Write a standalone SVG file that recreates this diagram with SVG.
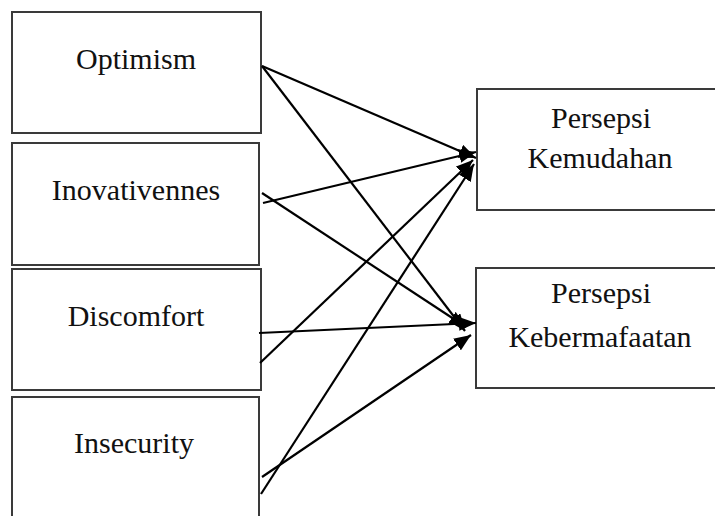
<svg xmlns="http://www.w3.org/2000/svg" width="715" height="516" viewBox="0 0 715 516">
<style>
.box{fill:#fff;stroke:#3a3a3a;stroke-width:2}
.lbl{font-family:'Liberation Serif','Times New Roman',serif;font-size:30px;fill:#111;text-anchor:middle}
.edge{stroke:#000;stroke-width:2.2;fill:none;marker-end:url(#ah)}
</style>
<defs>
<marker id="ah" markerUnits="userSpaceOnUse" markerWidth="18" markerHeight="14" refX="17" refY="7" orient="auto">
<path d="M0,0 L17,7 L0,14 Z" fill="#000"/>
</marker>
</defs>
<rect width="715" height="516" fill="#fff"/>
<g id="optimism"><rect class="box" x="12" y="12" width="249" height="121"/><text class="lbl" x="136" y="69">Optimism</text></g>
<g id="inovativennes"><rect class="box" x="12" y="143" width="247" height="122"/><text class="lbl" x="136" y="200">Inovativennes</text></g>
<g id="discomfort"><rect class="box" x="12" y="269" width="249" height="121"/><text class="lbl" x="136" y="326">Discomfort</text></g>
<g id="insecurity"><rect class="box" x="12" y="397" width="247" height="140"/><text class="lbl" x="134" y="453">Insecurity</text></g>
<g id="persepsi-kemudahan"><rect class="box" x="477" y="89" width="260" height="121"/><text class="lbl" x="601" y="128">Persepsi</text><text class="lbl" x="600" y="168">Kemudahan</text></g>
<g id="persepsi-kebermafaatan"><rect class="box" x="476" y="268" width="260" height="120"/><text class="lbl" x="601" y="303">Persepsi</text><text class="lbl" x="600" y="347">Kebermafaatan</text></g>
<g id="connectors">
<line class="edge" x1="262" y1="66" x2="476" y2="158"/>
<line class="edge" x1="262" y1="66" x2="465" y2="331"/>
<line class="edge" x1="263" y1="203" x2="476" y2="152"/>
<line class="edge" x1="262" y1="193" x2="466" y2="327"/>
<line class="edge" x1="259" y1="333" x2="476" y2="323"/>
<line class="edge" x1="260" y1="363" x2="473" y2="160"/>
<line class="edge" x1="262" y1="477" x2="471" y2="335"/>
<line class="edge" x1="261" y1="494" x2="474" y2="164"/>
</g>
</svg>
